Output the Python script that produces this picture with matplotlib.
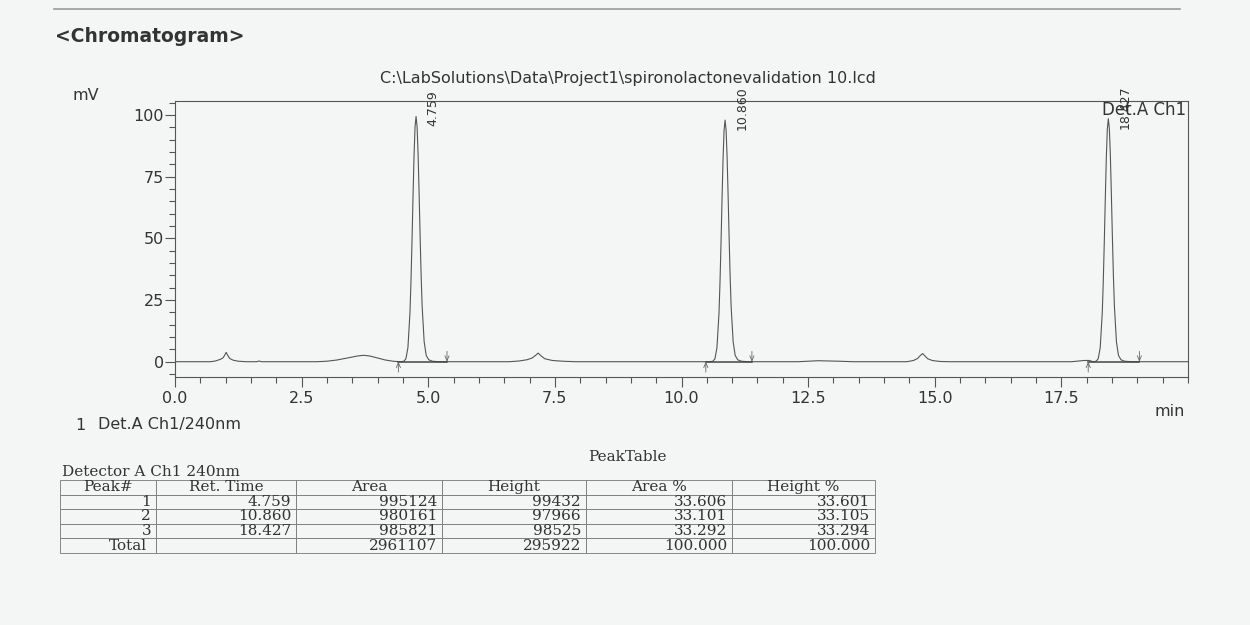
import matplotlib

matplotlib.use("Agg")
import matplotlib.pyplot as plt
from matplotlib.ticker import MultipleLocator

# peak table (detector A, ch1 240 nm)
peak_no = ["1", "2", "3"]
ret_times = [4.759, 10.860, 18.427]          # min
areas = [995124, 980161, 985821]             # uV*s
heights = [99432, 97966, 98525]              # uV
area_pct = [33.606, 33.101, 33.292]
height_pct = [33.601, 33.105, 33.294]
area_total = 2961107
height_total = 295922
pct_total = 100.000

# integration start / end marks (min)
peak_start = [4.41, 10.48, 18.03]
peak_end = [5.37, 11.39, 19.04]

# x tick labels printed on the time axis
time_ticks = [0.0, 2.5, 5.0, 7.5, 10.0, 12.5, 15.0, 17.5]

# main peak profile: offset from apex (min) and fraction of apex height
profile_dt = [-0.30, -0.24, -0.20, -0.16, -0.12, -0.10, -0.08, -0.06, -0.04, -0.02, 0.0,
              0.02, 0.04, 0.06, 0.08, 0.10, 0.12, 0.16, 0.20, 0.25, 0.32, 0.45]
profile_frac = [0.0, 0.002, 0.012, 0.058, 0.20, 0.328, 0.49, 0.67, 0.837, 0.956, 1.0,
                0.96, 0.85, 0.69, 0.515, 0.355, 0.228, 0.082, 0.026, 0.008, 0.002, 0.0]

# baseline with the small impurity bumps (min, mV)
base_min = [0.00, 0.70, 0.80, 0.90, 0.95, 0.98, 1.01, 1.04, 1.08, 1.15, 1.25, 1.40,
            1.62, 1.66, 1.70, 2.80, 3.00, 3.20, 3.40, 3.60, 3.72, 3.85, 4.00, 4.15,
            4.30, 4.45, 5.25, 6.60, 6.80, 6.95, 7.05, 7.12, 7.17, 7.22, 7.30, 7.45,
            7.65, 7.90, 10.55, 11.35, 12.30, 12.70, 13.10, 13.40, 14.45, 14.58, 14.66,
            14.72, 14.76, 14.80, 14.86, 14.95, 15.10, 15.30, 17.70, 17.85, 17.95, 18.05,
            18.90, 20.00]
base_mv = [0.0, 0.0, 0.3, 1.0, 1.6, 2.6, 3.8, 2.6, 1.3, 0.6, 0.2, 0.0,
           0.0, 0.3, 0.0, 0.0, 0.2, 0.7, 1.5, 2.3, 2.6, 2.3, 1.5, 0.7,
           0.2, 0.0, 0.0, 0.0, 0.3, 0.8, 1.5, 2.6, 3.5, 2.5, 1.2, 0.5,
           0.2, 0.0, 0.0, 0.0, 0.0, 0.4, 0.2, 0.0, 0.0, 0.5, 1.3,
           2.6, 3.3, 2.5, 1.2, 0.5, 0.1, 0.0, 0.0, 0.3, 0.5, 0.5,
           0.0, 0.0]

# merge baseline and the three main peaks into one trace
points = []
for t, v in zip(base_min, base_mv):
    inside = any(rt + profile_dt[0] <= t <= rt + profile_dt[-1] for rt in ret_times)
    if not inside:
        points.append((t, v))
for rt, h in zip(ret_times, heights):
    for dt, f in zip(profile_dt, profile_frac):
        points.append((rt + dt, h / 1000 * f))
points.sort()
trace_t = [p[0] for p in points]
trace_v = [p[1] for p in points]

paper = "#f3f6f4"
ink = "#333333"
sans = ["DejaVu Sans"]
serif = ["DejaVu Serif"]

fig = plt.figure(figsize=(12.5, 6.25), dpi=100, facecolor=paper)

# chromatogram axes
ax = fig.add_axes([0.14, 0.3968, 0.8104, 0.4416])
ax.set_facecolor(paper)
ax.plot(trace_t, trace_v, color="#555555", lw=0.8)
ax.set_xlim(0, 20)
ax.set_ylim(-6.2, 105.7)

ax.set_xticks(time_ticks)
ax.xaxis.set_minor_locator(MultipleLocator(0.5))
ax.yaxis.set_major_locator(MultipleLocator(25))
ax.yaxis.set_minor_locator(MultipleLocator(5))
ax.xaxis.set_major_formatter(lambda v, p: f"{v:.1f}")
ax.tick_params(which="both", direction="out", color="#555555", width=0.8,
               labelsize=11.5, labelcolor=ink)
ax.tick_params(which="major", length=7)
ax.tick_params(which="minor", length=4)
ax.tick_params(axis="y", pad=1)
ax.tick_params(axis="x", pad=3)
for s in ax.spines.values():
    s.set_color("#555555")
    s.set_linewidth(0.8)

# integration baselines and start/end arrows
for s, e in zip(peak_start, peak_end):
    ax.plot([s, e], [0, 0], color="#444444", lw=1.1)
    ax.annotate("", xy=(s, 0), xytext=(s, -4.2),
                arrowprops=dict(arrowstyle="->,head_length=0.35,head_width=0.15",
                                color="#666666", lw=0.6, shrinkA=0, shrinkB=0))
    ax.annotate("", xy=(e, 0), xytext=(e, 4.2),
                arrowprops=dict(arrowstyle="->,head_length=0.35,head_width=0.15",
                                color="#666666", lw=0.6, shrinkA=0, shrinkB=0))

# retention time labels
for rt, h in zip(ret_times, heights):
    ax.text(rt + 0.33, h / 1000 - 4, f"{rt:.3f}", rotation=90, ha="center",
            va="bottom", fontsize=9, color=ink, family=sans, clip_on=False)

ax.text(0.998, 0.967, "Det.A Ch1", transform=ax.transAxes, ha="right", va="center",
        fontsize=12, color=ink, family=sans)

# page texts
fig.add_artist(plt.Line2D([0.043, 0.944], [0.985, 0.985], color="#9a9a9a", lw=1.2))
fig.text(0.044, 0.941, "<Chromatogram>", fontsize=13.5, fontweight="bold",
         color=ink, family=sans, va="center")
fig.text(0.5024, 0.875, r"C:\LabSolutions\Data\Project1\spironolactonevalidation 10.lcd",
         fontsize=11.5, color=ink, family=sans, ha="center", va="center")
fig.text(0.0576, 0.848, "mV", fontsize=11.5, color=ink, family=sans, va="center")
fig.text(0.948, 0.341, "min", fontsize=11.5, color=ink, family=sans, ha="right",
         va="center")
fig.text(0.06, 0.32, "1", fontsize=11.5, color=ink, family=sans, va="center")
fig.text(0.0784, 0.32, "Det.A Ch1/240nm", fontsize=11.5, color=ink, family=sans,
         va="center")

fig.text(0.5016, 0.2688, "PeakTable", fontsize=11, color=ink, family=serif,
         ha="center", va="center")
fig.text(0.0496, 0.2448, "Detector A Ch1 240nm", fontsize=11, color=ink, family=serif,
         va="center")

# peak table
col_labels = ["Peak#", "Ret. Time", "Area", "Height", "Area %", "Height %"]
rows = []
for i in range(len(peak_no)):
    rows.append([peak_no[i], f"{ret_times[i]:.3f}", str(areas[i]), str(heights[i]),
                 f"{area_pct[i]:.3f}", f"{height_pct[i]:.3f}"])
rows.append(["Total", "", str(area_total), str(height_total),
             f"{pct_total:.3f}", f"{pct_total:.3f}"])

col_px = [96, 140, 146, 144, 146, 143]
tab_ax = fig.add_axes([0.048, 0.1152, 0.652, 0.1168])
tab_ax.axis("off")
tab = tab_ax.table(cellText=rows, colLabels=col_labels, bbox=[0, 0, 1, 1],
                   colWidths=[w / sum(col_px) for w in col_px], cellLoc="right")
tab.auto_set_font_size(False)
tab.set_fontsize(11)
for (r, c), cell in tab.get_celld().items():
    cell.set_facecolor(paper)
    cell.set_edgecolor("#777777")
    cell.set_linewidth(0.6)
    cell.PAD = 5 / col_px[c]
    cell.get_text().set_color(ink)
    cell.get_text().set_family(serif)
    if r == 0:
        cell.get_text().set_horizontalalignment("center")
        cell._loc = "center"
    if r == len(rows) and c == 0:
        cell.PAD = 9 / col_px[c]

fig.savefig("out.png", dpi=100, facecolor=paper)
